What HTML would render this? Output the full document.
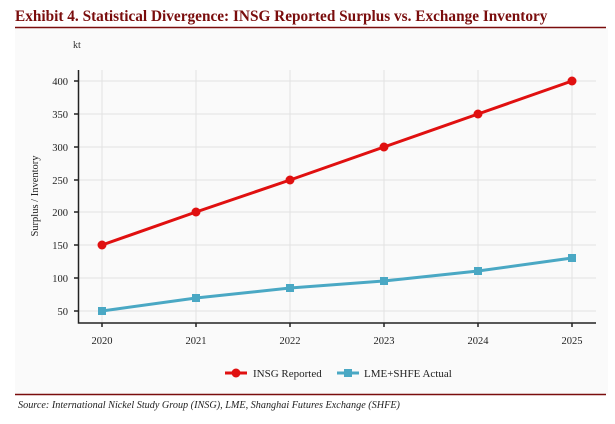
<!DOCTYPE html>
<html><head><style>
body{margin:0;width:615px;height:419px;background:#fff;overflow:hidden;font-family:"Liberation Serif",serif}
</style></head><body>
<svg width="615" height="419" xmlns="http://www.w3.org/2000/svg" font-family="Liberation Serif, serif">
<text x="15" y="21" font-size="15.3" font-weight="bold" fill="#7a0d0d">Exhibit 4. Statistical Divergence: INSG Reported Surplus vs. Exchange Inventory</text>
<rect x="15" y="28" width="593" height="366" fill="#fafafa"/>
<line x1="15" y1="27.5" x2="606" y2="27.5" stroke="#7a0d0d" stroke-width="1.5"/>
<line x1="15" y1="394.5" x2="606" y2="394.5" stroke="#7a0d0d" stroke-width="1.5"/>
<text x="73" y="48" font-size="10" fill="#333">kt</text>
<g stroke="#e2e2e2" stroke-width="1">
<line x1="78" y1="81" x2="596" y2="81"/><line x1="78" y1="114" x2="596" y2="114"/><line x1="78" y1="147" x2="596" y2="147"/><line x1="78" y1="180" x2="596" y2="180"/><line x1="78" y1="212" x2="596" y2="212"/><line x1="78" y1="245" x2="596" y2="245"/><line x1="78" y1="278" x2="596" y2="278"/><line x1="78" y1="311" x2="596" y2="311"/>
<line x1="102" y1="70" x2="102" y2="323"/><line x1="196" y1="70" x2="196" y2="323"/><line x1="290" y1="70" x2="290" y2="323"/><line x1="384" y1="70" x2="384" y2="323"/><line x1="478" y1="70" x2="478" y2="323"/><line x1="572" y1="70" x2="572" y2="323"/>
</g>
<g stroke="#222" stroke-width="1.5" fill="none">
<polyline points="78.5,70 78.5,323 596,323"/>
<line x1="74" y1="81" x2="78" y2="81"/><line x1="74" y1="114" x2="78" y2="114"/><line x1="74" y1="147" x2="78" y2="147"/><line x1="74" y1="180" x2="78" y2="180"/><line x1="74" y1="212" x2="78" y2="212"/><line x1="74" y1="245" x2="78" y2="245"/><line x1="74" y1="278" x2="78" y2="278"/><line x1="74" y1="311" x2="78" y2="311"/>
<line x1="102" y1="323" x2="102" y2="327"/><line x1="196" y1="323" x2="196" y2="327"/><line x1="290" y1="323" x2="290" y2="327"/><line x1="384" y1="323" x2="384" y2="327"/><line x1="478" y1="323" x2="478" y2="327"/><line x1="572" y1="323" x2="572" y2="327"/>
</g>
<g font-size="10.5" fill="#222" text-anchor="end">
<text x="68" y="85">400</text><text x="68" y="118">350</text><text x="68" y="151">300</text><text x="68" y="184">250</text><text x="68" y="216">200</text><text x="68" y="249">150</text><text x="68" y="282">100</text><text x="68" y="315">50</text>
</g>
<g font-size="10.5" fill="#222" text-anchor="middle">
<text x="102" y="344">2020</text><text x="196" y="344">2021</text><text x="290" y="344">2022</text><text x="384" y="344">2023</text><text x="478" y="344">2024</text><text x="572" y="344">2025</text>
</g>
<text transform="translate(38,196) rotate(-90)" font-size="10.5" fill="#222" text-anchor="middle">Surplus / Inventory</text>
<polyline points="102,245 196,212 290,180 384,147 478,114 572,81" fill="none" stroke="#e01010" stroke-width="3"/>
<g fill="#e01010"><circle cx="102" cy="245" r="4.5"/><circle cx="196" cy="212" r="4.5"/><circle cx="290" cy="180" r="4.5"/><circle cx="384" cy="147" r="4.5"/><circle cx="478" cy="114" r="4.5"/><circle cx="572" cy="81" r="4.5"/></g>
<polyline points="102,311 196,298 290,288 384,281 478,271 572,258" fill="none" stroke="#4aa8c4" stroke-width="3"/>
<g fill="#4aa8c4"><rect x="98" y="307" width="8" height="8"/><rect x="192" y="294" width="8" height="8"/><rect x="286" y="284" width="8" height="8"/><rect x="380" y="277" width="8" height="8"/><rect x="474" y="267" width="8" height="8"/><rect x="568" y="254" width="8" height="8"/></g>
<line x1="225" y1="373" x2="247" y2="373" stroke="#e01010" stroke-width="3"/><circle cx="236" cy="373" r="4.5" fill="#e01010"/>
<text x="253" y="377" font-size="11" fill="#222">INSG Reported</text>
<line x1="337" y1="373" x2="359" y2="373" stroke="#4aa8c4" stroke-width="3"/><rect x="344" y="369" width="8" height="8" fill="#4aa8c4"/>
<text x="364" y="377" font-size="11" fill="#222">LME+SHFE Actual</text>
<text x="18" y="408" font-size="10.2" font-style="italic" fill="#222">Source: International Nickel Study Group (INSG), LME, Shanghai Futures Exchange (SHFE)</text>
</svg>
</body></html>
